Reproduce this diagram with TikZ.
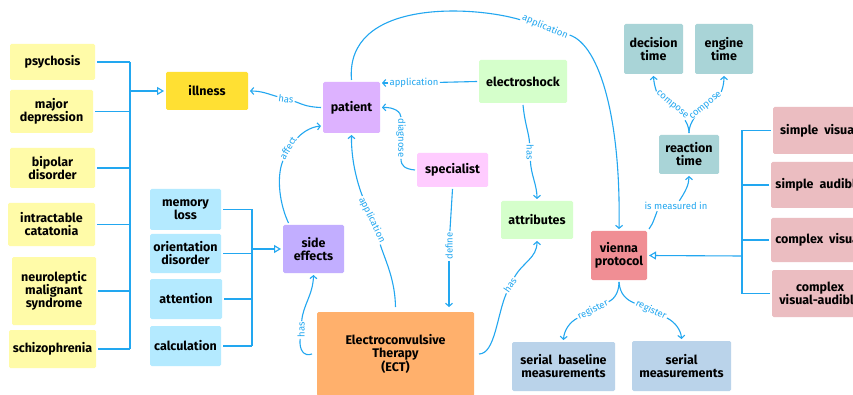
\documentclass[tikz,border=0pt]{standalone}
\usepackage{fontspec}
\setmainfont{Fira Sans}
\usetikzlibrary{arrows.meta}

\definecolor{lineblue}{HTML}{22A7F0}
\definecolor{cyel}{HTML}{FFFBA8}
\definecolor{cgold}{HTML}{FFE033}
\definecolor{csky}{HTML}{B4EAFF}
\definecolor{clav}{HTML}{C2AEFF}
\definecolor{cpat}{HTML}{DDB2FF}
\definecolor{cspec}{HTML}{FFCCFF}
\definecolor{cmint}{HTML}{D5FFCB}
\definecolor{cect}{HTML}{FFB06C}
\definecolor{cser}{HTML}{BAD3EA}
\definecolor{cvie}{HTML}{F08E94}
\definecolor{cteal}{HTML}{A9D4D7}
\definecolor{crose}{HTML}{EBBDC1}

\tikzset{
  box/.style={rectangle, rounded corners=1.5pt, align=center, inner sep=1pt,
    outer sep=2pt, font=\bfseries\fontsize{12.5}{13}\selectfont, text=black},
  sz/.style 2 args={minimum width=#1pt, minimum height=#2pt},
  conn/.style={draw=lineblue, line width=1.1pt},
  arr/.style={conn, -{Straight Barb[length=3pt,width=7pt]}},
  hollow/.style={conn, -{Triangle[open, length=7pt, width=8pt]}},
  lab/.style={font=\fontsize{9.5}{10}\selectfont, text=lineblue, inner sep=1.2pt},
}

\begin{document}
\begin{tikzpicture}[x=1pt,y=-1pt]
\useasboundingbox (0,0) rectangle (853,395);
\clip (0,0) rectangle (853,395);
\fill[white] (0,0) rectangle (853,395);

% ---- illnesses treated ----
\node[box, fill=cyel, sz={85}{36}] (psy)  at (52.5,62)  {psychosis};
\node[box, fill=cyel, sz={83}{43}] (mdep) at (51.5,111.5) {major\\depression};
\node[box, fill=cyel, sz={85}{40}] (bip)  at (52.5,168) {bipolar\\disorder};
\node[box, fill=cyel, sz={87}{43}] (cat)  at (51.5,224.5) {intractable\\catatonia};
\node[box, fill=cyel, sz={84}{68}] (nms)  at (54,291) {neuroleptic\\malignant\\syndrome};
\node[box, fill=cyel, sz={87}{38}] (sch)  at (52.5,349) {schizophrenia};
\node[box, fill=cgold, sz={82}{38}] (ill) at (207,91) {illness};

% ---- side effects ----
\node[box, fill=csky, sz={71}{41}] (mem) at (185.5,209.5) {memory\\loss};
\node[box, fill=csky, sz={71}{39}] (ori) at (185.5,253.5) {orientation\\disorder};
\node[box, fill=csky, sz={72}{40}] (att) at (186,299) {attention};
\node[box, fill=csky, sz={71}{40}] (cal) at (185.5,346) {calculation};
\node[box, fill=clav, sz={61}{48}] (side) at (313.5,249) {side\\effects};

% ---- centre ----
\node[box, fill=cpat, sz={57}{51}] (pat) at (351.5,107.5) {patient};
\node[box, fill=cmint, sz={88}{43}] (esh) at (523,81.5) {electroshock};
\node[box, fill=cspec, sz={71}{34}] (spec) at (452.5,170) {specialist};
\node[box, fill=cmint, sz={72}{38}] (attr) at (537,220) {attributes};
\node[box, fill=cect, sz={157}{84}, outer sep=5pt] (ect) at (395.5,354) {Electroconvulsive\\Therapy\\(ECT)};

% ---- measurement ----
\node[box, fill=cser, sz={103}{49}] (sbm) at (563.5,366.5) {serial\ \ baseline\\measurements};
\node[box, fill=cser, sz={99}{50}] (sm) at (681.5,366) {serial\\measurements};
\node[box, fill=cvie, sz={56}{49}] (vie) at (619,255.5) {vienna\\protocol};
\node[box, fill=cteal, sz={60}{39}] (rt) at (689,154.5) {reaction\\time};
\node[box, fill=cteal, sz={59}{50}] (dt) at (653.5,49) {decision\\time};
\node[box, fill=cteal, sz={58}{50}] (et) at (724,49) {engine\\time};
\node[box, fill=crose, sz={92}{47}] (sv) at (819,130.5) {simple\ \ visual};
\node[box, fill=crose, sz={96}{46}] (sa) at (819,185) {simple\ \ audible};
\node[box, fill=crose, sz={96}{44}] (cv) at (819,240) {complex\ \ visual};
\node[box, fill=crose, sz={96}{47}] (cva) at (820,293.5) {complex\\visual-audible};

% ---- bracket groups ----
\coordinate (lbar) at (130,91);
\foreach \n in {psy,mdep,bip,cat,nms,sch} \draw[conn] (\n.east) -- (\n.east -| lbar);
\draw[conn] (psy.east -| lbar) -- (sch.east -| lbar);
\draw[hollow] (lbar) -- (ill.west);

\coordinate (mbar) at (252,249);
\foreach \n in {mem,ori,att,cal} \draw[conn] (\n.east) -- (\n.east -| mbar);
\draw[conn] (mem.east -| mbar) -- (cal.east -| mbar);
\draw[hollow] (mbar) -- (side.west);

\coordinate (rbar) at (742,256);
\foreach \n in {sv,sa,cv,cva} \draw[conn] (\n.west) -- (\n.west -| rbar);
\draw[conn] (sv.west -| rbar) -- (cva.west -| rbar);
\draw[hollow] (rbar) -- (vie.east);

% ---- edge labels ----
\node[lab, rotate=-8]  (l1)  at (286,99)  {has};
\node[lab, rotate=60]  (l2)  at (288,148) {affect};
\node[lab, rotate=-64] (l3)  at (372,220) {application};
\node[lab, rotate=-90] (l4)  at (401,138) {diagnose};
\node[lab]             (l5)  at (414,83)  {application};
\node[lab, rotate=-90] (l6)  at (530,152) {has};
\node[lab, rotate=90]  (l7)  at (449,246) {define};
\node[lab, rotate=55]  (l8)  at (510,285) {has};
\node[lab, rotate=90]  (l9)  at (301,330) {has};
\node[lab, rotate=-23] (l10) at (545,27)  {application};
\node[lab]             (l11) at (676,206) {is measured in};
\node[lab, rotate=-40] (l12) at (672,105) {compose};
\node[lab, rotate=40]  (l13) at (706,106) {compose};
\node[lab, rotate=26]  (l14) at (593,310) {register};
\node[lab, rotate=-26] (l15) at (651,310) {register};

% ---- connectors ----
\draw[conn] (pat.west) .. controls (305,107) and (300,103) .. (l1);
\draw[arr]  (l1) .. controls (268,94) and (262,91) .. (ill.east);

\draw[conn] ([xshift=-25pt]side.north) .. controls (280,205) and (276,178) .. (l2);
\draw[arr]  (l2) .. controls (302,133) and (310,127) .. (pat.west |- 0,126);

\draw[conn] (ect.north) .. controls (395,280) and (386,262) .. (l3);
\draw[arr]  (l3) .. controls (360,190) and (351,165) .. (pat.south);

\draw[conn] (spec.west) .. controls (405,169) and (401,166) .. (l4);
\draw[arr]  (l4) .. controls (401,112) and (394,107) .. (pat.east);

\draw[conn] (esh.west) -- (l5);
\draw[arr]  (l5) -- (l5 -| pat.east);

\draw[conn] (esh.south) .. controls (525,125) and (529,133) .. (l6);
\draw[arr]  (l6) .. controls (531,175) and (537,185) .. (attr.north);

\draw[conn] (spec.south) -- (l7);
\draw[arr]  (l7) -- (l7 |- ect.north);

\draw[conn] (ect.east) .. controls (495,354) and (497,315) .. (l8);
\draw[arr]  (l8) .. controls (523,262) and (537,258) .. (attr.south);

\draw[conn] (ect.west) .. controls (304,357) and (299,350) .. (l9);
\draw[arr]  (l9) .. controls (303,305) and (313,295) .. (side.south);

\draw[conn] (pat.north) .. controls (345,0) and (470,5) .. (l10);
\draw[arr]  (l10) .. controls (600,45) and (621,120) .. (vie.north);

\draw[conn] (vie.north east) .. controls (652,225) .. ([xshift=14pt]l11.south west);
\draw[arr]  (l11) .. controls (685,192) and (689,185) .. (rt.south);

\draw[conn] (rt.north) .. controls (689,124) and (683,118) .. (l12);
\draw[arr]  (l12) .. controls (657,92) and (654,86) .. (dt.south);
\draw[conn] (rt.north) .. controls (689,124) and (695,118) .. (l13);
\draw[arr]  (l13) .. controls (721,92) and (724,86) .. (et.south);

\draw[conn] (vie.south) .. controls (619,295) and (612,300) .. (l14);
\draw[arr]  (l14) .. controls (570,322) and (564,330) .. (sbm.north);
\draw[conn] (vie.south) .. controls (620,295) and (627,300) .. (l15);
\draw[arr]  (l15) .. controls (675,322) and (681,330) .. (sm.north);
\end{tikzpicture}
\end{document}
